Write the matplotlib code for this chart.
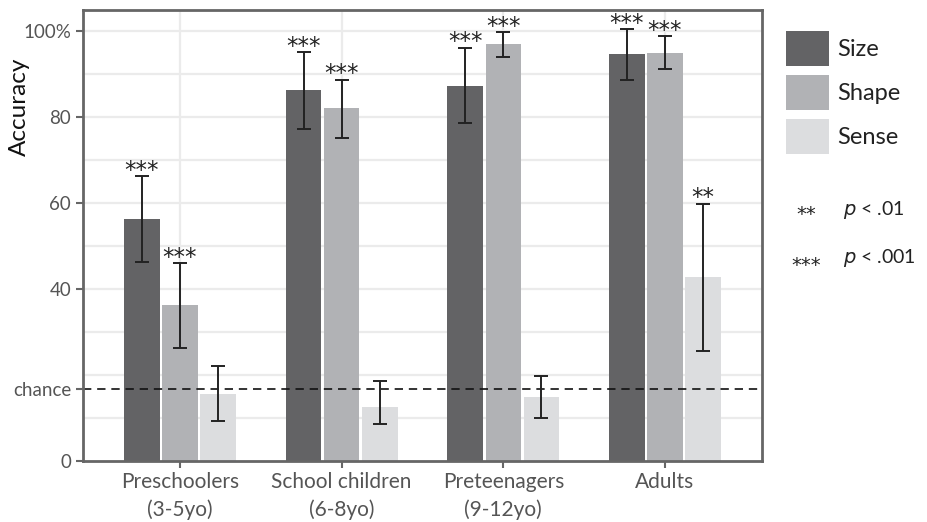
import numpy as np
import matplotlib
matplotlib.use('Agg')
import matplotlib.pyplot as plt
from matplotlib.patches import Patch

plt.rcParams['font.family'] = ['Lato', 'DejaVu Sans']

# data
groups = ['Preschoolers\n(3-5yo)', 'School children\n(6-8yo)', 'Preteenagers\n(9-12yo)', 'Adults']
conds = ['Size', 'Shape', 'Sense']
colors = ['#636365', '#b1b2b5', '#dcdddf']

size_mean = [56.3, 86.3, 87.4, 94.7]
size_lo = [46.4, 77.3, 78.8, 88.8]
size_hi = [66.3, 95.2, 96.2, 100.5]
shape_mean = [36.3, 82.1, 97.0, 95.1]
shape_lo = [26.4, 75.3, 94.0, 91.3]
shape_hi = [46.0, 88.8, 99.8, 98.9]
sense_mean = [15.7, 12.5, 14.8, 42.8]
sense_lo = [9.4, 8.5, 10.0, 25.6]
sense_hi = [22.1, 18.6, 19.8, 59.9]

sig_size = ['***', '***', '***', '***']
sig_shape = ['***', '***', '***', '***']
sig_sense = ['', '', '', '**']

chance = 100 / 6

means = [size_mean, shape_mean, sense_mean]
los = [size_lo, shape_lo, sense_lo]
his = [size_hi, shape_hi, sense_hi]
sigs = [sig_size, sig_shape, sig_sense]

fig = plt.figure(figsize=(9.27, 5.22), dpi=100)
ax = fig.add_axes([83/927, 61/522, 679/927, 451/522])

x = np.arange(len(groups))
w = 0.22
off = 0.236

# grid
for g in np.arange(10, 101, 10):
    ax.axhline(g, color='#ebebeb', lw=1.6, zorder=0)
for xi in x:
    ax.axvline(xi, color='#ebebeb', lw=1.6, zorder=0)

for i in range(3):
    xs = x + (i - 1) * off
    m = np.array(means[i])
    ax.bar(xs, m, width=w, color=colors[i], zorder=2)
    yerr = [m - np.array(los[i]), np.array(his[i]) - m]
    ax.errorbar(xs, m, yerr=yerr, fmt='none', ecolor='#222222',
                elinewidth=1.4, capsize=5, capthick=1.4, zorder=3)
    for xx, top, s in zip(xs, his[i], sigs[i]):
        if s:
            ax.annotate(s, (xx, top), xytext=(0, -4), textcoords='offset points',
                        ha='center', va='bottom', fontsize=16.5, color='#222222',
                        family='DejaVu Sans', zorder=4)

ax.axhline(chance, color='#111111', lw=1.2, ls=(0, (5, 3.5)), zorder=2.5)

ax.set_xlim(-0.6, 3.6)
ax.set_ylim(0, 105)
ax.set_xticks(x)
ax.set_xticklabels(groups, fontsize=15, color='#555555', linespacing=1.45)
ax.set_yticks([0, chance, 40, 60, 80, 100])
ax.set_yticklabels(['0', 'chance', '40', '60', '80', '100%'], fontsize=13.5, color='#555555')
ax.set_ylabel('Accuracy', fontsize=17.5, color='#111111', va='center')
ax.yaxis.set_label_coords(-0.094, 0.785)
ax.tick_params(axis='both', color='#666666', width=1.5, length=5)
ax.tick_params(axis='x', pad=3)
for sp in ax.spines.values():
    sp.set_color('#666666')
    sp.set_linewidth(2)

handles = [Patch(facecolor=c, edgecolor='none') for c in colors]
fig.legend(handles, conds, loc='upper left', bbox_to_anchor=(786/927, 1 - 31/522),
           frameon=False, fontsize=17, handlelength=1.82, handleheight=1.9,
           labelspacing=0.38, handletextpad=0.34, borderpad=0, borderaxespad=0,
           labelcolor='#222222')

fig.text(806/927, 1 - 215/522, '**', ha='center', va='center', fontsize=14,
         color='#222222', family='DejaVu Sans')
fig.text(806/927, 1 - 265/522, '***', ha='center', va='center', fontsize=14,
         color='#222222', family='DejaVu Sans')
fig.text(843/927, 1 - 210/522, r'$\it{p}$ < .01', ha='left', va='center', fontsize=14, color='#222222')
fig.text(843/927, 1 - 258/522, r'$\it{p}$ < .001', ha='left', va='center', fontsize=14, color='#222222')

fig.savefig('out.png', dpi=100)
